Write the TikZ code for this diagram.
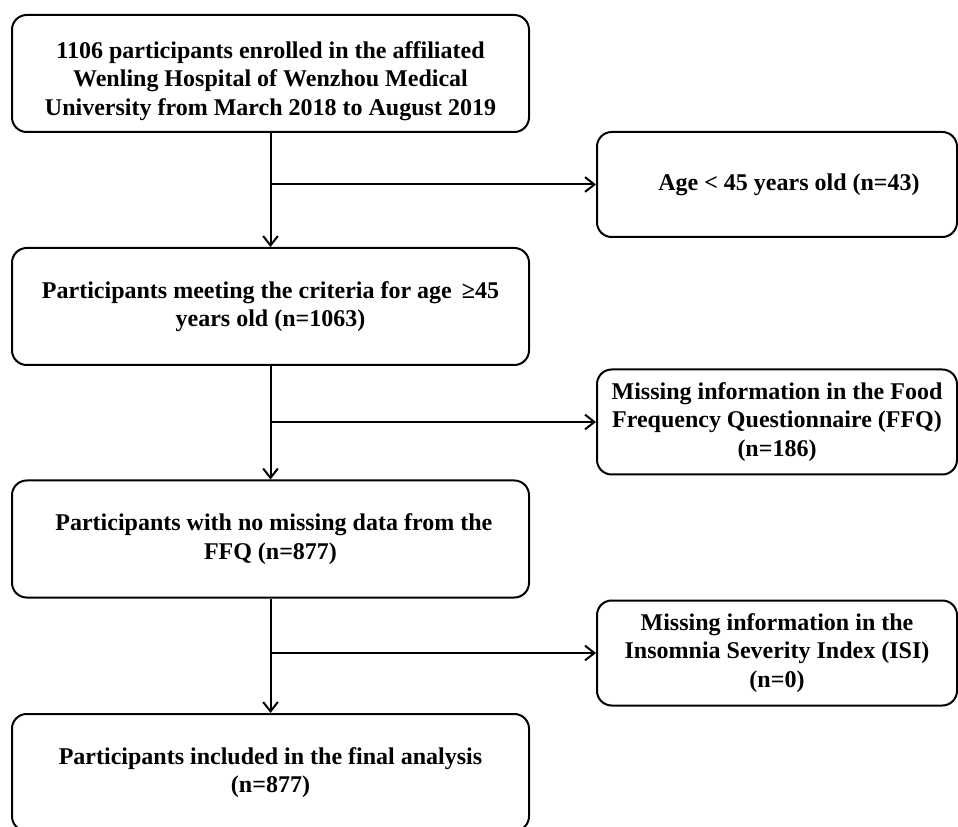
\documentclass[tikz,border=0pt]{standalone}
\usepackage{fontspec}
\setmainfont{Liberation Serif}
\usetikzlibrary{arrows.meta}
\begin{document}
\begin{tikzpicture}[x=0.75pt,y=-0.75pt,line width=1.5pt,>={Straight Barb[length=7pt,width=11pt]},
  box/.style={draw, rounded corners=11pt, align=center, inner sep=0pt,
    font=\bfseries\fontsize{18}{21.5}\selectfont},
  mainbox/.style={box, minimum width=387.75pt, minimum height=87.75pt},
  sidebox/.style={box, minimum width=270pt, minimum height=78.75pt}]

\useasboundingbox (0,0) rectangle (958,827);

\node[mainbox](enr) at (270.5,73.5) {\rule{0pt}{24pt}1106 participants enrolled in the affiliated\\Wenling Hospital of Wenzhou Medical\\University from March 2018 to August 2019};
\node[mainbox](age) at (270.5,306.5) {Participants meeting the criteria for age \,≥45\\years old (n=1063)};
\node[mainbox](ffq) at (270.5,539) {\;Participants with no missing data from the\\FFQ (n=877)};
\node[mainbox](fin) at (270.5,772.5) {Participants included in the final analysis\\(n=877)};

\node[sidebox](ex1) at (777,184.5) {\quad Age < 45 years old (n=43)};
\node[sidebox](ex2) at (777,422) {Missing information in the Food\\Frequency Questionnaire (FFQ)\\(n=186)};
\node[sidebox](ex3) at (777,653) {Missing information in the\\Insomnia Severity Index (ISI)\\(n=0)};

\coordinate(b1) at (270.5,184.5);
\coordinate(b2) at (270.5,422);
\coordinate(b3) at (270.5,653);

\draw[->] (enr) -- (age);
\draw[->] (age) -- (ffq);
\draw[->] (ffq) -- (fin);
\draw[->] (b1) -- (ex1);
\draw[->] (b2) -- (ex2);
\draw[->] (b3) -- (ex3);

\end{tikzpicture}
\end{document}
